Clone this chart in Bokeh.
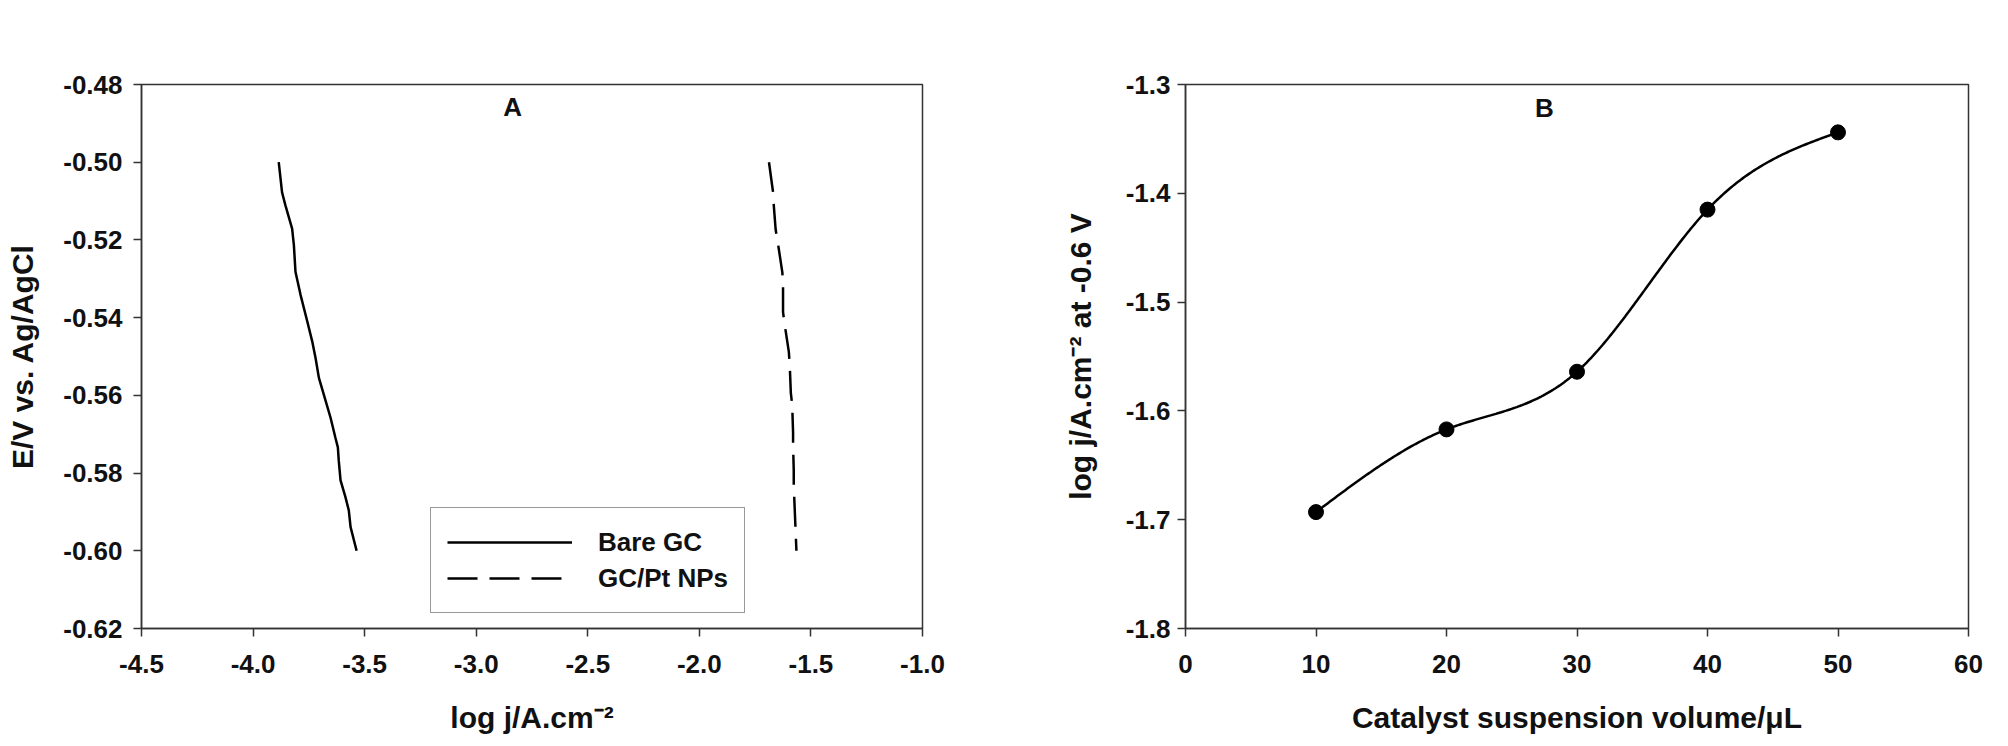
import numpy as np
from bokeh.plotting import figure
from bokeh.models import (Legend, LegendItem, FixedTicker, PrintfTickFormatter,
                          Label, Range1d)
from bokeh.layouts import row
from bokeh.embed import file_html
from bokeh.resources import INLINE

FONT = "Liberation Sans"

# ---------------- Panel A data ----------------
bare_logj = [-3.885, -3.870, -3.855, -3.825, -3.817, -3.810, -3.787, -3.757, -3.735,
             -3.720, -3.705, -3.683, -3.653, -3.631, -3.620, -3.616, -3.608, -3.586,
             -3.571, -3.563, -3.536]
bare_E = [-0.5000, -0.5078, -0.5111, -0.5171, -0.5214, -0.5282, -0.5342, -0.5410, -0.5461,
          -0.5504, -0.5555, -0.5598, -0.5657, -0.5709, -0.5734, -0.5768, -0.5819, -0.5862,
          -0.5896, -0.5939, -0.6000]

pt_logj = [-1.688, -1.670, -1.666, -1.658, -1.647, -1.628, -1.625, -1.625, -1.617, -1.599,
           -1.595, -1.590, -1.584, -1.580, -1.580, -1.577, -1.577, -1.570, -1.565]
pt_E = [-0.5000, -0.5076, -0.5115, -0.5174, -0.5212, -0.5284, -0.5319, -0.5386, -0.5420,
        -0.5488, -0.5522, -0.5594, -0.5624, -0.5696, -0.5726, -0.5794, -0.5832, -0.5930,
        -0.6000]

a_xticks = [-4.5, -4.0, -3.5, -3.0, -2.5, -2.0, -1.5, -1.0]
a_yticks = [-0.62, -0.60, -0.58, -0.56, -0.54, -0.52, -0.50, -0.48]
legend_labels = ["Bare GC", "GC/Pt NPs"]

# ---------------- Panel B data ----------------
volume = [10, 20, 30, 40, 50]
logj_06 = [-1.693, -1.617, -1.564, -1.415, -1.344]

b_xticks = [0, 10, 20, 30, 40, 50, 60]
b_yticks = [-1.8, -1.7, -1.6, -1.5, -1.4, -1.3]


def natural_spline(xs, ys, n=300):
    x = np.asarray(xs, float)
    y = np.asarray(ys, float)
    k = len(x)
    h = np.diff(x)
    A = np.zeros((k, k))
    r = np.zeros(k)
    A[0, 0] = A[-1, -1] = 1.0
    for i in range(1, k - 1):
        A[i, i - 1] = h[i - 1]
        A[i, i] = 2 * (h[i - 1] + h[i])
        A[i, i + 1] = h[i]
        r[i] = 3 * ((y[i + 1] - y[i]) / h[i] - (y[i] - y[i - 1]) / h[i - 1])
    c = np.linalg.solve(A, r)
    b = (y[1:] - y[:-1]) / h - h * (2 * c[:-1] + c[1:]) / 3
    d = (c[1:] - c[:-1]) / (3 * h)
    xx = np.linspace(x[0], x[-1], n)
    idx = np.clip(np.searchsorted(x, xx) - 1, 0, k - 2)
    t = xx - x[idx]
    yy = y[idx] + b[idx] * t + c[idx] * t ** 2 + d[idx] * t ** 3
    return xx, yy


AX_COLOR = "#333333"


def style(p, xticks, yticks, xfmt, yfmt, xlabel, ylabel, xl_stand, yl_stand, ytl_stand):
    p.xgrid.visible = False
    p.ygrid.visible = False
    p.outline_line_color = AX_COLOR
    p.outline_line_width = 1.5
    p.background_fill_color = "white"
    p.border_fill_color = "white"
    for ax in (p.xaxis[0], p.yaxis[0]):
        ax.axis_line_color = AX_COLOR
        ax.axis_line_width = 1.5
        ax.major_tick_line_color = AX_COLOR
        ax.major_tick_line_width = 1.5
        ax.major_tick_in = 0
        ax.major_tick_out = 8
        ax.minor_tick_line_color = None
        ax.major_label_text_font = FONT
        ax.major_label_text_font_style = "bold"
        ax.major_label_text_font_size = "26px"
        ax.major_label_text_color = "#111111"
        ax.axis_label_text_font = FONT
        ax.axis_label_text_font_style = "bold"
        ax.axis_label_text_font_size = "30px"
        ax.axis_label_text_color = "#111111"
    p.xaxis[0].ticker = FixedTicker(ticks=xticks)
    p.yaxis[0].ticker = FixedTicker(ticks=yticks)
    p.xaxis[0].formatter = PrintfTickFormatter(format=xfmt)
    p.yaxis[0].formatter = PrintfTickFormatter(format=yfmt)
    p.xaxis[0].axis_label = xlabel
    p.yaxis[0].axis_label = ylabel
    p.xaxis[0].major_label_standoff = 18
    p.yaxis[0].major_label_standoff = ytl_stand
    p.xaxis[0].axis_label_standoff = xl_stand
    p.yaxis[0].axis_label_standoff = yl_stand


# ---------------- Panel A ----------------
pa = figure(width=1004, height=744, output_backend="svg", toolbar_location=None,
            x_range=Range1d(a_xticks[0], a_xticks[-1]),
            y_range=Range1d(a_yticks[0], a_yticks[-1]),
            min_border_left=141, min_border_right=82, min_border_top=84,
            min_border_bottom=112)
style(pa, a_xticks, a_yticks, "%.1f", "%.2f", "log j/A.cm\u207b\u00b2",
      "E/V vs. Ag/AgCl", 25, 21, 11)

r_bare = pa.line(bare_logj, bare_E, line_color="black", line_width=2.5)
r_pt = pa.line(pt_logj, pt_E, line_color="black", line_width=2.5, line_dash="30 12")

legend = Legend(items=[LegendItem(label=legend_labels[0], renderers=[r_bare]),
                       LegendItem(label=legend_labels[1], renderers=[r_pt])],
                location=(289, 15))
legend.border_line_color = AX_COLOR
legend.border_line_width = 1.5
legend.background_fill_color = "white"
legend.background_fill_alpha = 1.0
legend.padding = 16
legend.spacing = 0
legend.margin = 0
legend.glyph_width = 125
legend.glyph_height = 36
legend.label_height = 36
legend.label_standoff = 26
legend.label_text_font = FONT
legend.label_text_font_style = "bold"
legend.label_text_font_size = "26px"
legend.label_text_color = "#111111"
pa.add_layout(legend)

pa.add_layout(Label(x=-2.837, y=-0.4859, text="A", text_font=FONT,
                    text_font_style="bold", text_font_size="26px",
                    text_align="center", text_baseline="middle", text_color="#111111"))

# ---------------- Panel B ----------------
pb = figure(width=1000, height=744, output_backend="svg", toolbar_location=None,
            x_range=Range1d(b_xticks[0], b_xticks[-1]),
            y_range=Range1d(b_yticks[0], b_yticks[-1]),
            min_border_left=181, min_border_right=36, min_border_top=80,
            min_border_bottom=116)
style(pb, b_xticks, b_yticks, "%d", "%.1f", "Catalyst suspension volume/\u03bcL",
      "log j/A.cm\u207b\u00b2 at -0.6 V", 25, 26, 7)

sx, sy = natural_spline(volume, logj_06)
pb.line(sx, sy, line_color="black", line_width=2.5)
pb.scatter(volume, logj_06, size=15, fill_color="black", line_color="black")

pb.add_layout(Label(x=27.5, y=-1.322, text="B", text_font=FONT,
                    text_font_style="bold", text_font_size="26px",
                    text_align="center", text_baseline="middle", text_color="#111111"))

layout = row(pa, pb)
open("out.html", "w").write(file_html(layout, INLINE))
